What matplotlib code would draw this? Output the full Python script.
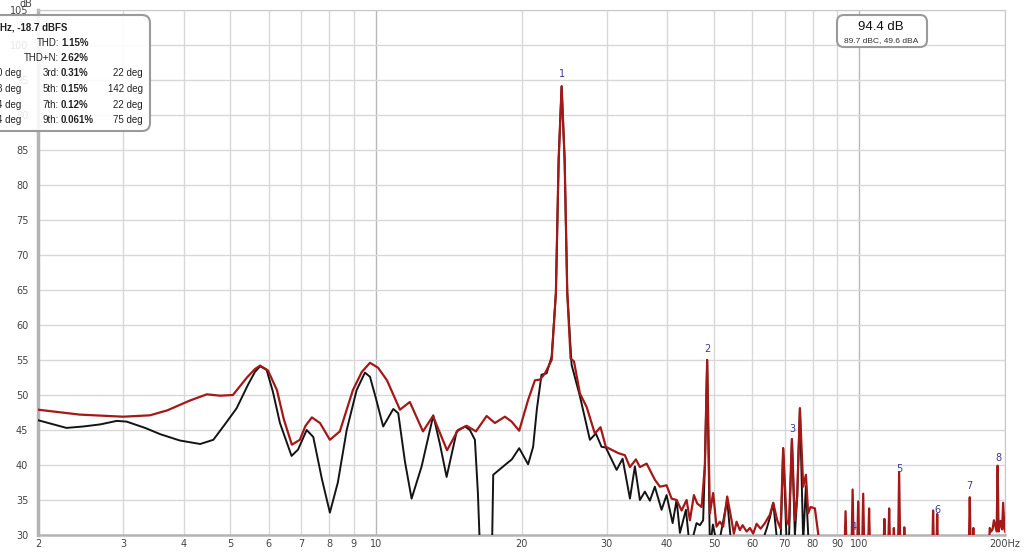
import matplotlib
matplotlib.use("Agg")
import matplotlib.pyplot as plt
from matplotlib.patches import FancyBboxPatch
from matplotlib.transforms import IdentityTransform

plt.rcParams['font.family'] = ['DejaVu Sans']

# measured response (red) and distortion-free reference (black), Hz / dB
red_freq = [2.00, 2.44, 3.00, 3.41, 3.70, 4.12, 4.47, 4.76, 5.06, 5.41, 5.62, 5.76, 5.98, 6.24, 6.45,
            6.70, 6.96, 7.15, 7.37, 7.66, 8.03, 8.42, 8.96, 9.35, 9.72, 10.1, 10.54, 11.21, 11.75, 12.51,
            13.12, 14.03, 14.78, 15.40, 16.10, 16.94, 17.62, 18.48, 19.08, 19.78, 20.64, 21.32, 21.85,
            22.37, 23.09, 23.56, 23.87, 24.21, 24.56, 24.87, 25.27, 25.68, 26.42, 27.27, 28.36, 29.14,
            29.88, 31.70, 32.72, 33.52, 34.49, 35.15, 36.29, 37.74, 38.66, 39.91, 40.88, 41.86, 42.87,
            43.90, 44.60, 45.46, 46.18, 47.16, 47.90, 48.42, 49.05, 49.82, 50.63, 51.44, 52.26, 53.27,
            54.39, 54.99, 55.70, 56.58, 57.32, 58.43, 59.36, 60.29, 61.27, 62.46, 63.75, 65.28, 66.33,
            67.59, 68.70, 69.54, 70.69, 71.46, 72.49, 73.53, 74.34, 75.31, 76.50, 77.49, 78.34, 79.24,
            80.88, 82.16, 83.63,
            92.9, 93.6, 94.3, 96.1, 96.8, 97.5, 98.7, 99.4, 100.1, 101.1, 101.8, 102.5, 104.0, 104.7, 105.4,
            111.8, 112.6, 113.4, 114.4, 115.2, 116.0, 117.2, 117.8, 118.5, 120.0, 120.8, 121.6,
            123.2, 123.8, 124.5, 141.2, 142.0, 142.9, 144.0, 144.8, 145.7, 168.0, 169.1, 170.2,
            171.2, 172.0, 172.8, 184.5, 186.0, 187.2, 188.5, 189.7, 192.2, 193.1, 194.0, 195.8,
            197.3, 198.2, 199.5, 200.0]
red_db = [47.9, 47.2, 46.9, 47.1, 47.8, 49.2, 50.1, 49.9, 50.0, 52.5, 53.7, 54.2, 53.5, 50.7, 46.5,
          42.9, 43.6, 45.6, 46.8, 46.0, 43.6, 44.8, 50.7, 53.3, 54.6, 53.9, 52.1, 47.9, 49.0, 44.8,
          47.0, 42.1, 45.0, 45.6, 44.8, 47.0, 46.0, 46.9, 46.2, 44.9, 49.3, 52.1, 52.2,
          53.1, 55.0, 64.6, 83.6, 94.1, 83.6, 64.6, 55.2, 54.8, 50.2, 48.3, 44.5, 45.4,
          42.6, 41.7, 41.4, 39.7, 40.8, 39.7, 40.2, 37.9, 36.9, 37.1, 35.2, 35.0, 33.5,
          35.0, 32.1, 35.7, 34.5, 34.0, 40.0, 55.0, 33.1, 36.0, 31.2, 31.9, 31.2, 35.5,
          32.1, 30.2, 31.9, 30.7, 31.4, 30.5, 31.0, 30.2, 31.6, 30.9, 31.7, 32.9, 34.6,
          32.1, 30.9, 42.4, 32.1, 31.4, 43.7, 32.1, 35.5, 48.1, 36.9, 38.6, 33.1, 34.0,
          33.8, 30.2, 25.0,
          25.0, 33.4, 25.0, 25.0, 36.5, 25.0, 25.0, 34.8, 25.0, 25.0, 35.9, 25.0, 25.0, 33.8, 25.0,
          25.0, 32.3, 25.0, 25.0, 33.8, 25.0, 25.0, 31.0, 25.0, 25.0, 39.0, 25.0,
          25.0, 31.1, 25.0, 25.0, 33.5, 25.0, 25.0, 33.0, 25.0, 25.0, 35.4, 25.0,
          25.0, 31.0, 25.0, 25.0, 31.0, 30.5, 30.8, 32.1, 30.5, 39.9, 30.5, 32.0,
          30.8, 34.6, 31.0, 30.5]

black_freq = [2.00, 2.29, 2.48, 2.69, 2.91, 3.05, 3.33, 3.58, 3.93, 4.33, 4.61, 4.87, 5.15, 5.44, 5.62,
              5.76, 5.94, 6.12, 6.33, 6.69, 6.90, 7.19, 7.42, 7.73, 8.03, 8.34, 8.70, 9.12, 9.49, 9.72,
              10.0, 10.35, 10.86, 11.12, 11.48, 11.85, 12.43, 13.14, 13.56, 14.0, 14.69, 15.28, 15.64,
              16.02, 16.25, 16.41, 17.35, 17.48, 18.63, 19.10, 19.78, 20.64, 21.14, 21.52, 22.0, 22.54,
              23.09, 23.56, 23.87, 24.21, 24.56, 24.87, 25.39, 26.42, 27.70, 28.50, 29.28, 29.88, 31.46,
              32.37, 33.52, 34.32, 35.15, 35.99, 36.86, 37.74, 38.97, 39.91, 41.08, 41.86, 42.53, 43.76,
              44.60, 46.03, 46.77, 47.50, 47.90, 48.42, 49.05, 49.76, 50.96, 53.27, 54.39, 62.25, 64.28,
              65.28, 66.33, 67.59, 68.70, 69.54, 70.69, 71.46, 72.49, 73.53, 74.34, 75.31, 76.50, 77.49,
              78.6, 80.0]
black_db = [46.4, 45.3, 45.5, 45.8, 46.3, 46.2, 45.3, 44.4, 43.5, 43.0, 43.6, 45.8, 48.1, 51.5, 53.3,
            54.1, 53.6, 50.5, 46.0, 41.3, 42.2, 45.0, 44.0, 38.0, 33.2, 37.5, 45.0, 50.7, 53.2, 52.6,
            49.5, 45.5, 48.0, 47.4, 40.5, 35.2, 39.8, 47.1, 43.0, 38.3, 44.8, 45.5, 45.0,
            43.6, 36.0, 28.0, 25.0, 38.6, 40.2, 40.8, 42.4, 40.1, 42.6, 48.0, 52.9, 53.1,
            55.5, 64.6, 83.6, 94.1, 83.6, 64.6, 54.3, 49.8, 43.6, 44.5, 42.6, 42.5, 39.3,
            40.9, 35.2, 39.8, 35.0, 36.2, 34.9, 36.9, 33.6, 35.7, 31.7, 35.0, 30.3, 33.6,
            28.0, 31.7, 31.4, 32.1, 40.0, 55.0, 28.0, 31.5, 28.0, 35.0, 28.0, 28.0, 30.9,
            32.5, 34.6, 29.0, 29.0, 42.4, 29.0, 29.0, 43.7, 30.0, 35.5, 48.1, 29.0, 37.0,
            28.0, 25.0]

# harmonic markers
harm_labels = ['1', '2', '3', '4', '5', '6', '7', '8']
harm_freq = [24.2, 48.5, 72.7, 97.2, 121.0, 145.2, 169.1, 193.5]
harm_db = [95.9, 56.6, 45.2, 31.2, 39.4, 33.6, 37.0, 41.0]

xticks = [2, 3, 4, 5, 6, 7, 8, 9, 10, 20, 30, 40, 50, 60, 70, 80, 90, 100, 200]
xtick_labels = ['2', '3', '4', '5', '6', '7', '8', '9', '10', '20', '30', '40', '50', '60', '70',
                '80', '90', '100', '200Hz']
yticks = list(range(30, 106, 5))

W, H = 1024, 552
fig = plt.figure(figsize=(W / 100, H / 100), dpi=100)
ax = fig.add_axes([38 / W, (H - 535) / H, (1005 - 38) / W, (535 - 10) / H])

ax.plot(black_freq, black_db, color='#141414', lw=1.4, zorder=3, solid_joinstyle='round')
ax.plot(red_freq, red_db, color='#a51818', lw=1.6, zorder=4, solid_joinstyle='round')

for lab, f, d in zip(harm_labels, harm_freq, harm_db):
    ax.text(f, d, lab, color='#3a3a9a', fontsize=7, ha='center', va='center', zorder=5)

ax.set_xscale('log')
ax.set_xlim(2, 200)
ax.set_ylim(30, 105)
ax.minorticks_off()
ax.set_xticks(xticks)
ax.set_xticklabels(xtick_labels)
ax.set_yticks(yticks)
ax.tick_params(axis='both', length=0, labelsize=7, colors='#444444')
ax.tick_params(axis='y', pad=7)
ax.tick_params(axis='x', pad=3)

# grid, decades a bit darker
for f in xticks:
    c = '#b8b8b8' if f in (10, 100) else '#d8d8d8'
    ax.axvline(f, color=c, lw=1.0, zorder=1)
for d in yticks:
    ax.axhline(d, color='#d8d8d8', lw=1.0, zorder=1)

ax.spines['left'].set_color('#b4b4b4')
ax.spines['left'].set_linewidth(2.5)
ax.spines['bottom'].set_color('#b4b4b4')
ax.spines['bottom'].set_linewidth(1.8)
ax.spines['top'].set_color('#c8c8c8')
ax.spines['right'].set_color('#c8c8c8')

px = IdentityTransform()
fig.text(26, H - 4, 'dB', transform=px, fontsize=7, color='#444444', ha='center', va='center')

# THD box (top left, runs off the figure edge)
box = FancyBboxPatch((-20, H - 131), 170, 116, boxstyle='round,pad=0,rounding_size=8',
                     transform=px, facecolor=(1, 1, 1, 0.88), edgecolor='#9a9a9a', lw=1.5,
                     zorder=10)
fig.add_artist(box)

def t(x, y, s, **kw):
    fig.text(x, H - y, s, transform=px, fontsize=7, color='#222222', va='center', zorder=11,
             family='Liberation Sans', **kw)

t(0, 27, 'Hz, -18.7 dBFS', ha='left', fontweight='bold')
rows = [(43, '', 'THD:', '1.15%', ''),
        (58, '', 'THD+N:', '2.62%', ''),
        (73, '0 deg', '3rd:', '0.31%', '22 deg'),
        (89, '8 deg', '5th:', '0.15%', '142 deg'),
        (105, '4 deg', '7th:', '0.12%', '22 deg'),
        (120, '4 deg', '9th:', '0.061%', '75 deg')]
for y, left, name, val, deg in rows:
    if left:
        t(21, y, left, ha='right')
    t(59, y, name, ha='right')
    t(61, y, val, ha='left', fontweight='bold')
    if deg:
        t(143, y, deg, ha='right')

# level box (top right)
box2 = FancyBboxPatch((837, H - 47), 90, 32, boxstyle='round,pad=0,rounding_size=7',
                      transform=px, facecolor='white', edgecolor='#9a9a9a', lw=1.5, zorder=10)
fig.add_artist(box2)
fig.text(881, H - 27, '94.4 dB', transform=px, fontsize=9.5, color='#111111',
         ha='center', va='center', zorder=11, family='Liberation Sans')
fig.text(881, H - 41, '89.7 dBC, 49.6 dBA', transform=px, fontsize=6, color='#333333',
         ha='center', va='center', zorder=11, family='Liberation Sans')

fig.savefig('out.png', dpi=100)
